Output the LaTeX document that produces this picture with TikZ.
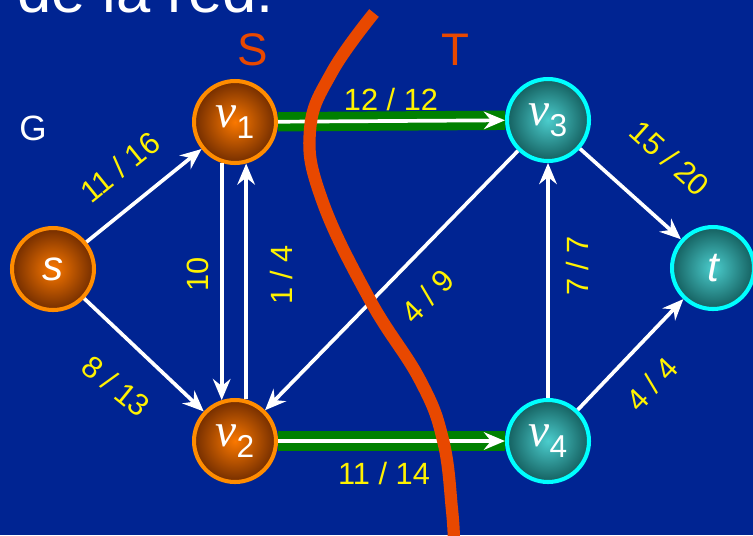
\documentclass[tikz,border=0pt]{standalone}
\usepackage{fontspec}
\setmainfont{Liberation Sans}
\newfontfamily\timesfont{Liberation Serif}
\usetikzlibrary{arrows.meta}
\definecolor{bgblue}{RGB}{0,36,146}
\definecolor{cutred}{RGB}{232,72,0}
\definecolor{flowgreen}{RGB}{0,128,0}
\definecolor{srcrim}{RGB}{255,140,0}
\definecolor{srcin}{RGB}{250,120,0}
\definecolor{srcout}{RGB}{115,45,0}
\definecolor{snkrim}{RGB}{0,255,255}
\definecolor{snkin}{RGB}{75,205,205}
\definecolor{snkout}{RGB}{20,95,95}
\newcommand\vname[1]{{\timesfont\itshape\fontsize{27}{27}\selectfont v}\raisebox{-6pt}{\fontsize{18}{18}\selectfont #1}}
\tikzset{
  vtx/.style={circle, minimum size=1.64cm, inner sep=0pt, line width=2.3pt, text=white},
  srcside/.style={vtx, draw=srcrim, inner color=srcin, outer color=srcout},
  snkside/.style={vtx, draw=snkrim, inner color=snkin, outer color=snkout},
  flow/.style={white, line width=2.1pt, -{Stealth[length=12pt,width=10pt,inset=4pt]}},
  band/.style={flowgreen, line width=11pt},
  lbl/.style={text=yellow, inner sep=0pt, font=\fontsize{17.5}{20}\selectfont}
}
\begin{document}
\begin{tikzpicture}[x=0.02cm, y=-0.02cm]
  \useasboundingbox (0,0) rectangle (753,535);
  \fill [bgblue] (0,0) rectangle (753,535);
  % titulo y etiquetas
  \node [anchor=base west, inner sep=0pt, text=white, font=\fontsize{35}{35}\selectfont] (title) at (17,12) {de la red.};
  \node [text=cutred, font=\fontsize{26}{26}\selectfont] (lS) at (253,50) {S};
  \node [text=cutred, font=\fontsize{26}{26}\selectfont] (lT) at (455,50) {T};
  \node [text=white, font=\fontsize{20}{20}\selectfont] (lG) at (33,128) {G};
  % vertices
  \node [srcside, font=\itshape\fontsize{24}{24}\selectfont] (s) at (53,269) {s};
  \node [srcside] (v1) at (235,122) {\vname{1}};
  \node [srcside] (v2) at (235,441) {\vname{2}};
  \node [snkside] (v3) at (548,120) {\vname{3}};
  \node [snkside] (v4) at (548,441) {\vname{4}};
  \node [snkside, font=\itshape\fontsize{24}{24}\selectfont] (t) at (713,268) {t};
  % aristas saturadas
  \draw [band] (v1) -- (v3);
  \draw [band] (v2) -- (v4);
  \draw [flow] (v1) -- (v3);
  \draw [flow] (v2) -- (v4);
  % resto de aristas
  \draw [flow] (s) -- (v1);
  \draw [flow] (s) -- (v2);
  \draw [flow] (v1.252) -- (v2.108);
  \draw [flow] (v2.75) -- (v1.285);
  \draw [flow] (v3) -- (v2);
  \draw [flow] (v4) -- (v3);
  \draw [flow] (v3) -- (t);
  \draw [flow] (v4) -- (t);
  % flujos / capacidades
  \node [lbl] (f13) at (391,100) {12 / 12};
  \node [lbl] (f24) at (384,473) {11 / 14};
  \node [lbl, rotate=39] (fs1) at (120,167) {11 / 16};
  \node [lbl, rotate=-39] (fs2) at (116,386) {8 / 13};
  \node [lbl, rotate=90] (f12) at (198,274) {10};
  \node [lbl, rotate=90] (f21) at (282,275) {1 / 4};
  \node [lbl, rotate=45.7] (f32) at (428,296) {4 / 9};
  \node [lbl, rotate=90] (f43) at (577,266) {7 / 7};
  \node [lbl, rotate=-42] (f3t) at (670,158) {15 / 20};
  \node [lbl, rotate=46] (f4t) at (652,384) {4 / 4};
  % corte
  \draw [cutred, line width=7pt] plot [smooth, tension=0.7] coordinates {(374,13) (332,72) (310,130) (322,200) (370,300) (420,380) (443,440) (452,510) (454,545)};
\end{tikzpicture}
\end{document}
